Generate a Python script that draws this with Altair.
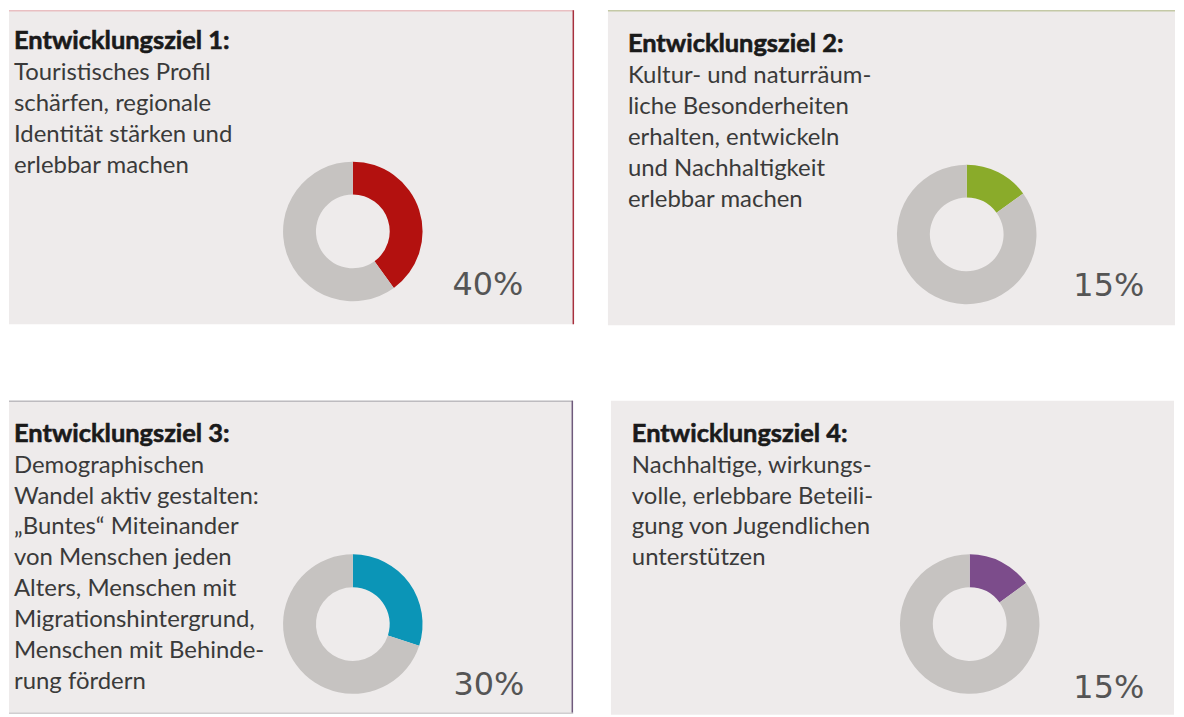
import altair as alt
import pandas as pd

# ---------------- data ----------------
goal_titles = [
    "Entwicklungsziel 1:",
    "Entwicklungsziel 2:",
    "Entwicklungsziel 3:",
    "Entwicklungsziel 4:",
]
goal_texts = [
    ["Touristisches Profil", "schärfen, regionale", "Identität stärken und", "erlebbar machen"],
    ["Kultur- und naturräum-", "liche Besonderheiten", "erhalten, entwickeln",
     "und Nachhaltigkeit", "erlebbar machen"],
    ["Demographischen", "Wandel aktiv gestalten:", "„Buntes“ Miteinander", "von Menschen jeden",
     "Alters, Menschen mit", "Migrationshintergrund,", "Menschen mit Behinde-", "rung fördern"],
    ["Nachhaltige, wirkungs-", "volle, erlebbare Beteili-", "gung von Jugendlichen", "unterstützen"],
]
shares = [40, 15, 30, 15]
segments = ["Ziel 1", "Ziel 2", "Ziel 3", "Ziel 4"]
rest_name = "Rest"

# ---------------- styles / layout ----------------
seg_colors = ["#b3110f", "#8aab2a", "#0b95b7", "#7c4c8b"]
rest_color = "#c6c3c1"
panel_fill = "#eeebeb"
FONT = "Lato"
PCT_FONT = "DejaVu Sans"

layout = [
    dict(w=567, h=315, tx=5, ty=39, cx=345, cy=222, px=445, py=286),
    dict(w=569, h=316, tx=20, ty=42, cx=360, cy=225, px=467, py=287),
    dict(w=566, h=314, tx=5, ty=41, cx=345, cy=224, px=446, py=295),
    dict(w=565, h=315, tx=21, ty=41, cx=360, cy=224, px=464, py=298),
]
# border rules per panel: (kind, color)
borders = [
    [("top", "#e9bfc2"), ("right", "#a8303e")],
    [("top", "#c4c9a6")],
    [("top", "#bdbbbf"), ("right", "#6f5a7c"), ("bottom", "#d0ced0")],
    [],
]

panels = pd.DataFrame({
    "panel": list(range(4)),
    "title": goal_titles,
    "desc": ["\n".join(t) for t in goal_texts],
    "label": [f"{s}%" for s in shares],
})

arc_rows = []
for i, (seg, s) in enumerate(zip(segments, shares)):
    arc_rows.append({"panel": i, "segment": seg, "value": s, "order": 0})
    arc_rows.append({"panel": i, "segment": rest_name, "value": 100 - s, "order": 1})
arcs = pd.DataFrame(arc_rows)

color_scale = alt.Scale(domain=segments + [rest_name], range=seg_colors + [rest_color])


def make_panel(i):
    L = layout[i]
    base = alt.Chart(panels).transform_filter(alt.datum.panel == i)

    title = base.mark_text(
        align="left", baseline="alphabetic", font=FONT, fontSize=25.5,
        fontWeight="bold", color="#1a1a1a", stroke="#1a1a1a", strokeWidth=0.6,
    ).encode(x=alt.value(L["tx"]), y=alt.value(L["ty"]), text="title:N")

    desc = base.mark_text(
        align="left", baseline="alphabetic", font=FONT, fontSize=24,
        color="#3a3a3a", lineBreak="\n", lineHeight=31,
    ).encode(x=alt.value(L["tx"]), y=alt.value(L["ty"] + 31), text="desc:N")

    pct = base.mark_text(
        align="left", baseline="alphabetic", font=PCT_FONT, fontSize=32,
        color="#555555",
    ).encode(x=alt.value(L["px"]), y=alt.value(L["py"]), text="label:N")

    donut = alt.Chart(arcs).transform_filter(alt.datum.panel == i).mark_arc(
        innerRadius=37, outerRadius=70, stroke=None
    ).encode(
        theta=alt.Theta("value:Q", stack=True, scale=alt.Scale(domain=[0, 100])),
        color=alt.Color("segment:N", scale=color_scale, legend=None),
        order=alt.Order("order:Q"),
        x=alt.value(L["cx"]),
        y=alt.value(L["cy"]),
    )

    layers = [donut, title, desc, pct]
    for kind, col in borders[i]:
        if kind == "top":
            enc = dict(x=alt.value(0), x2=alt.value(L["w"]), y=alt.value(0.5))
        elif kind == "bottom":
            enc = dict(x=alt.value(0), x2=alt.value(L["w"]), y=alt.value(L["h"] - 0.5))
        else:
            enc = dict(x=alt.value(L["w"] - 0.75), y=alt.value(0), y2=alt.value(L["h"]))
        layers.append(base.mark_rule(color=col, strokeWidth=1.5).encode(**enc))

    return alt.layer(*layers).properties(
        width=L["w"], height=L["h"],
        view=alt.ViewBackground(fill=panel_fill, stroke=None),
    )


row1 = alt.hconcat(make_panel(0), make_panel(1), spacing=32)
row2 = alt.hconcat(make_panel(2), make_panel(3), spacing=37)
chart = alt.vconcat(row1, row2, spacing=75).properties(
    padding=0, background="white"
).configure_view(stroke=None).resolve_scale(theta="independent")

chart.save("out.html", embed_options={"renderer": "svg", "actions": False})
